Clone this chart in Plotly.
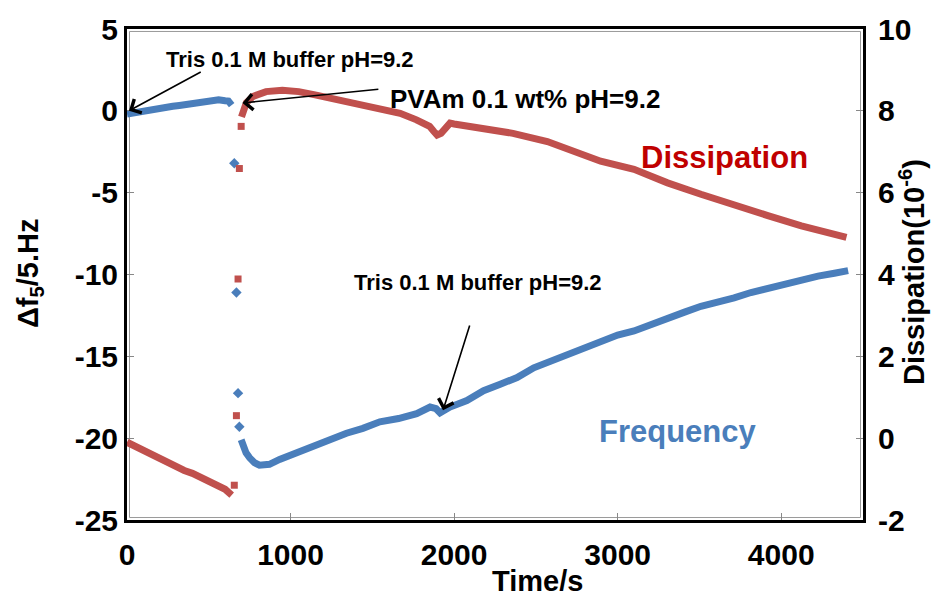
import plotly.graph_objects as go

# ---- Frequency shift (Δf5/5, Hz) ----
# baseline in Tris buffer
freq_t_base = [0, 40, 80, 120, 160, 200, 240, 280, 320, 360, 400, 440, 480, 520, 560, 600, 620, 640]
freq_v_base = [-0.2, -0.12, -0.05, 0.0, 0.05, 0.12, 0.25, 0.28, 0.33, 0.38, 0.42, 0.48, 0.55, 0.6, 0.68, 0.62, 0.6, 0.35]
# points recorded during the PVAm injection
freq_t_jump = [656, 669, 679, 687]
freq_v_jump = [-3.2, -11.1, -17.25, -19.3]
# adsorption and rinse
freq_t_ads = [698, 710, 728, 750, 779, 810, 871, 933, 1035, 1135, 1239, 1342, 1442, 1546, 1660, 1771,
              1853, 1890, 1914, 1940, 1975, 2078, 2180, 2282, 2385, 2487, 2589, 2700, 2800, 2896,
              3000, 3100, 3200, 3305, 3409, 3509, 3610, 3712, 3815, 3918, 4020, 4123, 4225, 4325, 4409]
freq_v_ads = [-20.1, -20.5, -20.9, -21.2, -21.5, -21.65, -21.6, -21.3, -20.9, -20.4, -20.0, -19.7, -19.4,
              -19.0, -18.8, -18.5, -18.1, -18.2, -18.45, -18.3, -18.1, -17.7, -17.1, -16.7, -16.3, -15.7,
              -15.3, -14.8, -14.4, -14.06, -13.7, -13.45, -13.05, -12.65, -12.3, -11.94, -11.7, -11.43,
              -11.1, -10.83, -10.6, -10.32, -10.1, -9.92, -9.76]

# ---- Dissipation (10^-6) ----
diss_t_base = [0, 50, 100, 150, 200, 250, 300, 350, 400, 450, 500, 550, 600, 640]
diss_v_base = [-0.1, -0.2, -0.3, -0.42, -0.5, -0.6, -0.68, -0.79, -0.86, -0.95, -1.05, -1.17, -1.25, -1.39]
diss_t_jump = [656, 669, 679, 687, 698]
diss_v_jump = [-1.15, 0.55, 3.89, 6.59, 7.62]
diss_t_ads = [700, 712, 730, 770, 850, 950, 1050, 1150, 1250, 1360, 1460, 1560, 1670, 1770, 1850, 1875,
              1896, 1920, 1950, 1975, 2000, 2160, 2360, 2570, 2770, 2896, 3100, 3305, 3509, 3712, 3918,
              4123, 4325, 4399]
diss_v_ads = [7.85, 8.05, 8.2, 8.35, 8.47, 8.5, 8.47, 8.39, 8.3, 8.18, 8.1, 8.02, 7.94, 7.78, 7.62, 7.5,
              7.41, 7.45, 7.62, 7.7, 7.68, 7.58, 7.45, 7.25, 6.97, 6.77, 6.57, 6.24, 5.96, 5.68, 5.44,
              5.19, 4.99, 4.91]

# tick positions / labels (plain hyphen minus signs)
x_ticks = [0, 1000, 2000, 3000, 4000]
y_ticks = [-25, -20, -15, -10, -5, 0, 5]
y2_ticks = [-2, 0, 2, 4, 6, 8, 10]

BLUE = "#4a7ebb"
RED = "#c0504d"
FONT = "Liberation Sans, Arial, sans-serif"

fig = go.Figure()

for t, v in [(freq_t_base, freq_v_base), (freq_t_ads, freq_v_ads)]:
    fig.add_trace(go.Scatter(x=t, y=v, mode="lines", line=dict(color=BLUE, width=7),
                             showlegend=False, yaxis="y"))
fig.add_trace(go.Scatter(x=freq_t_jump, y=freq_v_jump, mode="markers",
                         marker=dict(symbol="diamond", size=8, color=BLUE),
                         showlegend=False, yaxis="y"))

for t, v in [(diss_t_base, diss_v_base), (diss_t_ads, diss_v_ads)]:
    fig.add_trace(go.Scatter(x=t, y=v, mode="lines", line=dict(color=RED, width=7),
                             showlegend=False, yaxis="y2"))
fig.add_trace(go.Scatter(x=diss_t_jump, y=diss_v_jump, mode="markers",
                         marker=dict(symbol="square", size=7, color=RED),
                         showlegend=False, yaxis="y2"))

tick_font = dict(family=FONT, size=30, color="black", weight="bold")
axis_common = dict(showgrid=False, zeroline=False, showline=True, linecolor="black", linewidth=3,
                   ticks="inside", ticklen=7, tickcolor="#888888", tickwidth=1, tickfont=tick_font)

fig.update_layout(
    width=951, height=599,
    margin=dict(l=127, r=88, t=25, b=79),
    paper_bgcolor="white", plot_bgcolor="white",
    xaxis=dict(range=[0, 4500], tickvals=x_ticks, ticktext=[str(v) for v in x_ticks],
               mirror=True, ticklabelstandoff=6, **axis_common),
    yaxis=dict(range=[-25, 5], tickvals=y_ticks, ticktext=[str(v) for v in y_ticks],
               mirror=True, ticklabelstandoff=0, **axis_common),
    yaxis2=dict(range=[-2, 10], tickvals=y2_ticks, ticktext=[str(v) for v in y2_ticks],
                overlaying="y", side="right", ticklabelstandoff=6, **axis_common),
)

# thin grey inner edge of the plot-area frame
PW, PH = 736, 495
fig.add_shape(type="rect", xref="paper", yref="paper",
              x0=2.5 / PW, x1=1 - 2.5 / PW, y0=2.5 / PH, y1=1 - 2.5 / PH,
              line=dict(color="#9a9a9a", width=1), layer="below")

ann_font = dict(family=FONT, size=22, color="black", weight="bold")
big_font = dict(family=FONT, size=29, color="black", weight="bold")


def px_x(p):
    return (p - 127) / PW


def px_y(p):
    return (520 - p) / PH


annotations = [
    dict(text="Tris 0.1 M buffer pH=9.2", x=px_x(290), y=px_y(56), font=ann_font),
    dict(text="PVAm 0.1 wt% pH=9.2", x=px_x(525), y=px_y(96),
         font=dict(family=FONT, size=26, color="black", weight="bold")),
    dict(text="Tris 0.1 M buffer pH=9.2", x=px_x(478), y=px_y(281), font=ann_font),
    dict(text="Dissipation", x=px_x(724), y=px_y(155),
         font=dict(family=FONT, size=31, color="#c00000", weight="bold")),
    dict(text="Frequency", x=px_x(678), y=px_y(431),
         font=dict(family=FONT, size=31, color=BLUE, weight="bold")),
    dict(text="Time/s", x=px_x(537), y=px_y(581), font=big_font),
    dict(text="Δf<sub>5</sub>/5.Hz", x=px_x(30), y=px_y(272), textangle=-90, font=big_font),
    dict(text="Dissipation(10<sup>-6</sup>)", x=px_x(912), y=px_y(270), textangle=-90, font=big_font),
]
for a in annotations:
    fig.add_annotation(xref="paper", yref="paper", showarrow=False,
                       xanchor="center", yanchor="middle", **a)

# arrows: (tip t, tip f, tail t, tail f) on the frequency axis
arrows = [(12, 0.0, 460, 2.42), (706, 0.48, 1546, 1.33), (1932, -18.3, 2098, -13.03)]
for xt, yt, xa, ya in arrows:
    fig.add_annotation(x=xt, y=yt, ax=xa, ay=ya, xref="x", yref="y", axref="x", ayref="y",
                       text="", showarrow=True, arrowhead=4, arrowsize=1.9, arrowwidth=1.6,
                       arrowcolor="black")

fig.write_html("out.html")
